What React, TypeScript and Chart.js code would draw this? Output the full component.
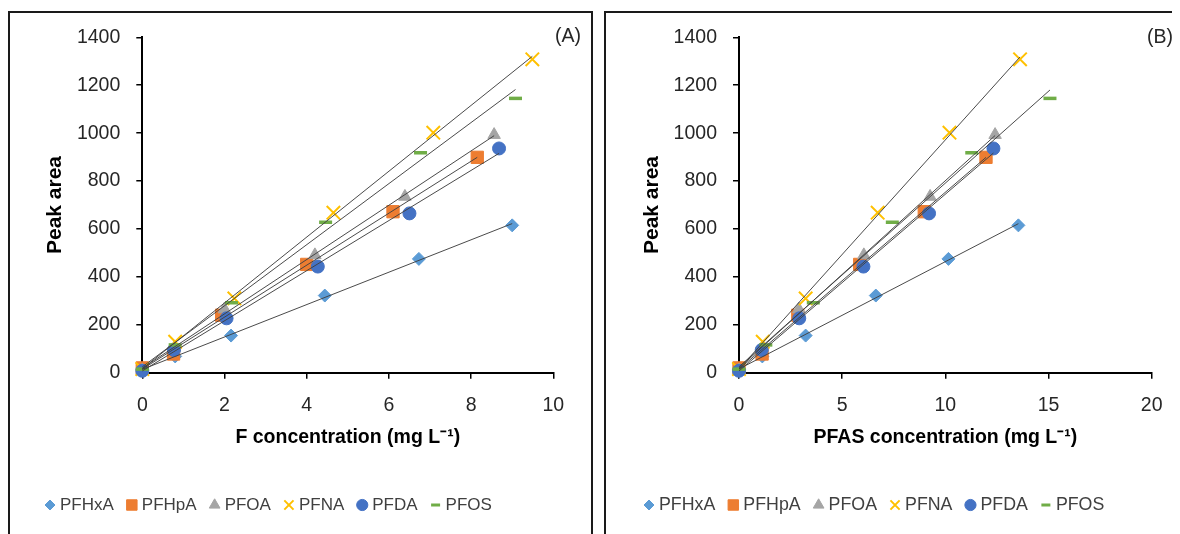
import React, { useEffect, useRef } from 'react';
import { Chart, registerables } from 'chart.js';
import { drawPoint } from 'chart.js/helpers';

Chart.register(...registerables);

const FONT = '"Liberation Sans", Arial, sans-serif';

// ---- data ----
const seriesNames = ['PFHxA', 'PFHpA', 'PFOA', 'PFNA', 'PFDA', 'PFOS'];
const seriesColors = ['#5B9BD5', '#ED7D31', '#A5A5A5', '#FFC000', '#4472C4', '#70AD47'];
const markerStyles = ['rectRot', 'rect', 'triangle', 'crossRot', 'circle', 'line'];
const markerRadius = [6.5, 8.7, 7.2, 9.5, 6.5, 6.5];
const markerBorder = [1, 1, 1, 2, 1, 3.5];
const legendRadius = [5, 7.4, 6.2, 6.5, 5.6, 4.5];
const legendBorder = [1, 1, 1, 2, 1, 3];

// Peak area (same for both panels)
const peakPFHxA = [12, 68, 155, 322, 475, 615];
const peakPFHpA = [20, 78, 240, 452, 672, 899];
const peakPFOA = [10, 105, 265, 491, 735, 993];
const peakPFNA = [15, 129, 310, 668, 1002, 1308];
const peakPFDA = [8, 95, 227, 443, 665, 936];
const peakPFOS = [15, 116, 292, 628, 918, 1145];

// Panel A: F concentration (mg/L)
const fPFHxA = [0, 0.8, 2.16, 4.44, 6.73, 9.0];
const fPFHpA = [0, 0.76, 1.93, 4.0, 6.1, 8.15];
const fPFOA = [0, 0.78, 2.0, 4.2, 6.39, 8.56];
const fPFNA = [0, 0.8, 2.24, 4.65, 7.08, 9.49];
const fPFDA = [0, 0.77, 2.05, 4.27, 6.5, 8.68];
const fPFOS = [0, 0.8, 2.17, 4.46, 6.77, 9.08];

// Panel B: PFAS concentration (mg/L)
const cPFHxA = [0, 1.13, 3.23, 6.63, 10.15, 13.54];
const cPFHpA = [0, 1.12, 2.85, 5.85, 8.98, 11.97];
const cPFOA = [0, 1.13, 2.9, 6.05, 9.26, 12.41];
const cPFNA = [0, 1.15, 3.23, 6.72, 10.2, 13.62];
const cPFDA = [0, 1.1, 2.92, 6.03, 9.21, 12.33];
const cPFOS = [0, 1.3, 3.6, 7.43, 11.28, 15.07];

const yTicks = [0, 200, 400, 600, 800, 1000, 1200, 1400];
const xTicksA = [0, 2, 4, 6, 8, 10];
const xTicksB = [0, 5, 10, 15, 20];

const peaks = [peakPFHxA, peakPFHpA, peakPFOA, peakPFNA, peakPFDA, peakPFOS];
const xsA = [fPFHxA, fPFHpA, fPFOA, fPFNA, fPFDA, fPFOS];
const xsB = [cPFHxA, cPFHpA, cPFOA, cPFNA, cPFDA, cPFOS];

function regression(xs: number[], ys: number[]) {
  const n = xs.length;
  const mx = xs.reduce((a, b) => a + b, 0) / n;
  const my = ys.reduce((a, b) => a + b, 0) / n;
  let sxy = 0;
  let sxx = 0;
  for (let i = 0; i < n; i++) {
    sxy += (xs[i] - mx) * (ys[i] - my);
    sxx += (xs[i] - mx) * (xs[i] - mx);
  }
  const b = sxy / sxx;
  return { a: my - b * mx, b };
}

const decorPlugin = {
  id: 'panelDecor',
  afterDraw(chart: any, _args: any, opts: any) {
    const ctx = chart.ctx as CanvasRenderingContext2D;
    ctx.save();
    // panel label
    ctx.font = `19.5px ${FONT}`;
    ctx.fillStyle = '#262626';
    ctx.textAlign = 'right';
    ctx.textBaseline = 'middle';
    ctx.fillText(opts.label, opts.labelX, opts.labelY);
    // legend
    ctx.font = `${opts.legendSize}px ${FONT}`;
    ctx.textAlign = 'left';
    let x = opts.legendX;
    const y = opts.legendY;
    seriesNames.forEach((name, i) => {
      ctx.fillStyle = seriesColors[i];
      ctx.strokeStyle = seriesColors[i];
      ctx.lineWidth = legendBorder[i];
      drawPoint(
        ctx,
        { pointStyle: markerStyles[i] as any, radius: legendRadius[i], borderWidth: legendBorder[i], rotation: 0 } as any,
        x + 5,
        y
      );
      ctx.fillStyle = '#404040';
      ctx.fillText(name, x + 15, y);
      x += 15 + ctx.measureText(name).width + 13;
    });
    ctx.restore();
  },
};

type PanelSpec = {
  xs: number[][];
  xTicks: number[];
  xTitle: string;
  label: string;
  labelX: number;
  labelY: number;
  legendX: number;
  legendY: number;
  legendSize: number;
  yAxisWidth: number;
  yTitlePad: number;
  padRight: number;
};

function makeConfig(p: PanelSpec): any {
  const datasets: any[] = [];
  seriesNames.forEach((name, i) => {
    const xs = p.xs[i];
    const ys = peaks[i];
    datasets.push({
      label: name,
      data: xs.map((x, j) => ({ x, y: ys[j] })),
      showLine: false,
      pointStyle: markerStyles[i],
      pointRadius: markerRadius[i],
      pointBorderWidth: markerBorder[i],
      backgroundColor: seriesColors[i],
      borderColor: seriesColors[i],
      clip: false,
      order: 20 - i,
    });
  });
  seriesNames.forEach((name, i) => {
    const xs = p.xs[i];
    const { a, b } = regression(xs, peaks[i]);
    const x0 = Math.min(...xs);
    const x1 = Math.max(...xs);
    datasets.push({
      label: name + ' trend',
      data: [
        { x: x0, y: a + b * x0 },
        { x: x1, y: a + b * x1 },
      ],
      showLine: true,
      borderColor: 'rgba(64,64,64,0.95)',
      borderWidth: 1,
      pointRadius: 0,
      clip: false,
      order: 0,
    });
  });

  const tickFont = { family: FONT, size: 19.5 };
  const xTitleFont = { family: FONT, size: 19.5, weight: 'bold' as const };
  const yTitleFont = { family: FONT, size: 21, weight: 'bold' as const };
  const xMax = p.xTicks[p.xTicks.length - 1];
  const yMax = yTicks[yTicks.length - 1];
  const fmt = (v: any) => String(v);

  return {
    type: 'scatter',
    data: { datasets },
    plugins: [decorPlugin],
    options: {
      responsive: false,
      animation: false,
      devicePixelRatio: 1,
      layout: { padding: { left: 0, top: 29.3, right: p.padRight, bottom: 71.3 } },
      plugins: {
        legend: { display: false },
        tooltip: { enabled: false },
        panelDecor: {
          label: p.label,
          labelX: p.labelX,
          labelY: p.labelY,
          legendX: p.legendX,
          legendY: p.legendY,
          legendSize: p.legendSize,
        },
      },
      scales: {
        x: {
          type: 'linear',
          min: p.xTicks[0],
          max: xMax,
          afterBuildTicks: (s: any) => {
            s.ticks = p.xTicks.map((v) => ({ value: v }));
          },
          afterFit: (s: any) => {
            s.height = 90;
          },
          ticks: { font: tickFont, color: '#262626', padding: 15, autoSkip: false, maxRotation: 0, callback: fmt },
          grid: { drawOnChartArea: false, drawTicks: true, tickLength: 6, color: '#000', lineWidth: 1.5 },
          border: { display: true, color: '#000', width: 2 },
          title: {
            display: true,
            text: p.xTitle,
            font: xTitleFont,
            color: '#000',
            padding: { top: 0, bottom: 13 },
          },
        },
        y: {
          type: 'linear',
          min: yTicks[0],
          max: yMax,
          afterBuildTicks: (s: any) => {
            s.ticks = yTicks.map((v) => ({ value: v }));
          },
          afterFit: (s: any) => {
            s.width = p.yAxisWidth;
          },
          ticks: { font: tickFont, color: '#262626', padding: 16, autoSkip: false, callback: fmt },
          grid: { drawOnChartArea: false, drawTicks: true, tickLength: 6, color: '#000', lineWidth: 1.5 },
          border: { display: true, color: '#000', width: 2 },
          title: {
            display: true,
            text: 'Peak area',
            font: yTitleFont,
            color: '#000',
            align: 'center',
            padding: { top: p.yTitlePad, bottom: 0 },
          },
        },
      },
    },
  };
}

export default function App() {
  const refA = useRef<HTMLCanvasElement>(null);
  const refB = useRef<HTMLCanvasElement>(null);

  useEffect(() => {
    const chartA = new Chart(
      refA.current as HTMLCanvasElement,
      makeConfig({
        xs: xsA,
        xTicks: xTicksA,
        xTitle: 'F concentration (mg L⁻¹)',
        label: '(A)',
        labelX: 573,
        labelY: 29,
        legendX: 37,
        legendY: 497,
        legendSize: 17,
        yAxisWidth: 134.3,
        yTitlePad: 35,
        padRight: 592 - 545.3,
      })
    );
    const chartB = new Chart(
      refB.current as HTMLCanvasElement,
      makeConfig({
        xs: xsB,
        xTicks: xTicksB,
        xTitle: 'PFAS concentration (mg L⁻¹)',
        label: '(B)',
        labelX: 573,
        labelY: 30,
        legendX: 44,
        legendY: 497,
        legendSize: 17.8,
        yAxisWidth: 139,
        yTitlePad: 39.5,
        padRight: 580 - 551.7,
      })
    );
    return () => {
      chartA.destroy();
      chartB.destroy();
    };
  }, []);

  return (
    <div style={{ position: 'relative', width: 1172, height: 526, overflow: 'hidden' }}>
      <div
        style={{
          position: 'absolute',
          left: 0,
          top: 3,
          width: 585,
          height: 620,
          border: '2px solid #1a1a1a',
          boxSizing: 'border-box',
        }}
      />
      <div
        style={{
          position: 'absolute',
          left: 596,
          top: 3,
          width: 700,
          height: 620,
          border: '2px solid #1a1a1a',
          boxSizing: 'border-box',
        }}
      />
      <canvas
        ref={refA}
        width={592}
        height={526}
        style={{ position: 'absolute', left: 0, top: 0, width: 592, height: 526, display: 'block' }}
      />
      <canvas
        ref={refB}
        width={580}
        height={526}
        style={{ position: 'absolute', left: 592, top: 0, width: 580, height: 526, display: 'block' }}
      />
    </div>
  );
}
